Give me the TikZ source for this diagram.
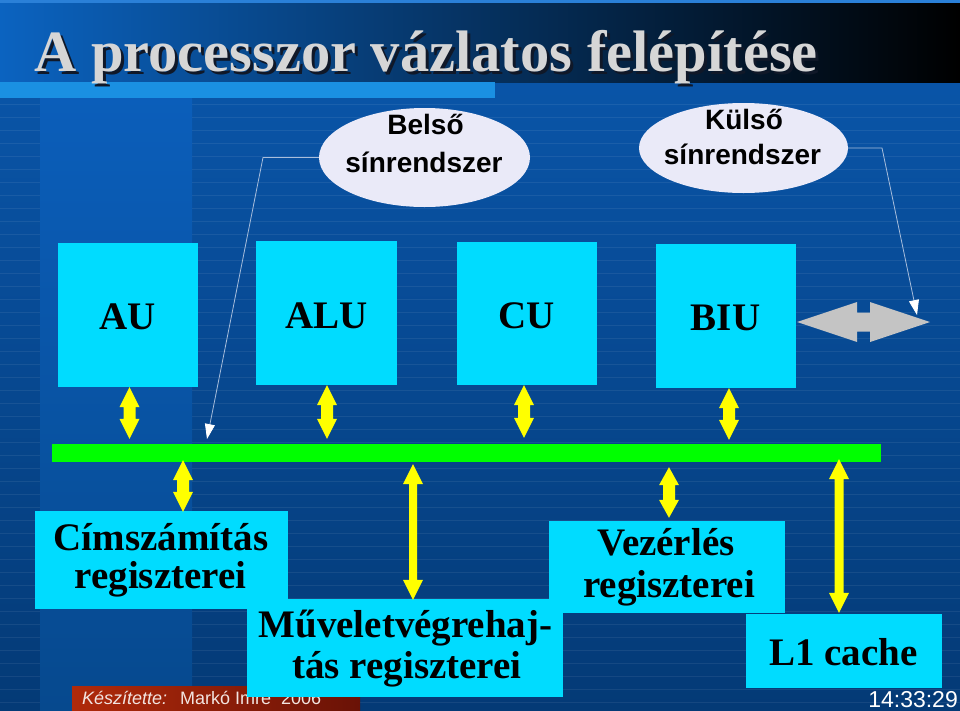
\documentclass[tikz,border=0pt]{standalone}
\usepackage{fontspec}
\setmainfont{Liberation Serif}
\setsansfont{Liberation Sans}
\usetikzlibrary{arrows.meta,shapes.geometric,calc}
\definecolor{bgA}{HTML}{0A58AE}
\definecolor{bgB}{HTML}{043A76}
\definecolor{bandA}{HTML}{0B5EBA}
\definecolor{bandB}{HTML}{06498E}
\definecolor{tbA}{HTML}{0B63C0}
\definecolor{tbB}{HTML}{0A4C9C}
\definecolor{stripc}{HTML}{1A90E2}
\definecolor{toplc}{HTML}{2A80D8}
\definecolor{titlec}{HTML}{D6D6D6}
\definecolor{titlesh}{HTML}{101828}
\definecolor{boxc}{HTML}{00DCFF}
\definecolor{busc}{HTML}{00FF00}
\definecolor{arrc}{HTML}{FFFF00}
\definecolor{grayarr}{HTML}{C4C4C4}
\definecolor{ellc}{HTML}{EAEAF8}
\definecolor{thinc}{HTML}{A8BEDC}
\definecolor{ftA}{HTML}{B02A0A}
\definecolor{ftB}{HTML}{F04A12}
\definecolor{ftC}{HTML}{6A1206}
\definecolor{fttext}{HTML}{F2E4E0}

% vertical double block arrow: top, bottom, shaft half, head half, head length
\newcommand\vdarr[5]{%
  \fill[arrc] let \p1=(#1), \p2=(#2) in
   (\x1,\y1) -- (\x1+#4,\y1-#5) -- (\x1+#3,\y1-#5) -- (\x1+#3,\y2+#5) -- (\x1+#4,\y2+#5) -- (\x1,\y2)
   -- (\x1-#4,\y2+#5) -- (\x1-#3,\y2+#5) -- (\x1-#3,\y1-#5) -- (\x1-#4,\y1-#5) -- cycle;}
% horizontal double block arrow: left, right, shaft half, head half, head length
\newcommand\hdarr[5]{%
  \fill[grayarr] let \p1=(#1), \p2=(#2) in
   (\x1,\y1) -- (\x1+#5,\y1+#4) -- (\x1+#5,\y1+#3) -- (\x2-#5,\y1+#3) -- (\x2-#5,\y1+#4) -- (\x2,\y1)
   -- (\x2-#5,\y1-#4) -- (\x2-#5,\y1-#3) -- (\x1+#5,\y1-#3) -- (\x1+#5,\y1-#4) -- cycle;}

\tikzset{
  unitbox/.style 2 args={fill=boxc, draw=none, inner sep=0pt, minimum width=#1, minimum height=#2},
  btxt/.style={font=\bfseries\fontsize{39}{40}\selectfont, text=black, inner sep=0pt, anchor=base},
  etxt/.style={font=\sffamily\bfseries\fontsize{28}{30}\selectfont, text=black, inner sep=0pt, anchor=base},
  ellbox/.style 2 args={ellipse, fill=ellc, draw=none, inner sep=0pt, minimum width=#1, minimum height=#2},
  thinl/.style={draw=thinc, line width=0.8pt, -{Triangle[width=10pt,length=15pt,fill=white,color=white]}},
  stripe/.style={draw=white, draw opacity=0.07, line width=1pt},
  titlet/.style={font=\bfseries\fontsize{58.5}{60}\selectfont, inner sep=0pt, anchor=base west},
}

\begin{document}
\begin{tikzpicture}[x=1pt,y=-1pt]
\useasboundingbox (0,0) rectangle (960,710);
% background
\shade[top color=bgA, bottom color=bgB] (0,0) rectangle (960,710);
\shade[top color=bandA, bottom color=bandB] (40,98) rectangle (192,710);
\foreach \yy in {104,117,...,710} {
  \draw[stripe] (0,\yy) -- (40,\yy);
  \draw[stripe] (192,\yy) -- (960,\yy);
}
\shade[left color=tbA, middle color=tbB, right color=black] (0,3) rectangle (960,82);
\fill[toplc] (0,0) rectangle (960,3);
\fill[stripc] (0,82) rectangle (495,98);

% title
\node[titlet, text=titlesh] (titlesh) at (37,74) {A processzor vázlatos felépítése};
\node[titlet, text=titlec] (title) at (34,71) {A processzor vázlatos felépítése};

% ellipses
\node[ellbox={211pt}{99pt}] (belso) at (424.5,157.5) {};
\node[etxt] (belso1) at (425.5,134) {Belső};
\node[etxt] (belso2) at (424,172) {sínrendszer};
\node[ellbox={209pt}{90pt}] (kulso) at (743.5,148) {};
\node[etxt] (kulso1) at (744,129) {Külső};
\node[etxt] (kulso2) at (742.5,164) {sínrendszer};

% upper units
\node[unitbox={140pt}{144pt}] (au) at (128,315) {};
\node[btxt] (au-t) at (128,329) {AU};
\node[unitbox={141pt}{144pt}] (alu) at (326.5,313) {};
\node[btxt] (alu-t) at (326.5,328) {ALU};
\node[unitbox={140pt}{143pt}] (cu) at (527,313.5) {};
\node[btxt] (cu-t) at (526.5,328) {CU};
\node[unitbox={140pt}{144pt}] (biu) at (726,316) {};
\node[btxt] (biu-t) at (725.5,330) {BIU};

% bus
\node[fill=busc, draw=none, inner sep=0pt, minimum width=829pt, minimum height=18pt] (bus) at (466.5,453) {};

% thin connector lines
\coordinate (bk) at (263,157.5);
\coordinate (bi) at (207,439);
\draw[thinl] (belso.west) -- (bk) -- (bi);
\coordinate (kk) at (882,148);
\coordinate (ki) at (917,315);
\draw[thinl] (kulso.east) -- (kk) -- (ki);

% lower register boxes
\node[unitbox={253pt}{98pt}] (cim) at (161.5,560) {};
\node[btxt] (cim1) at (161,550) {Címszámítás};
\node[btxt] (cim2) at (160.5,588) {regiszterei};

% footer
\shade[left color=ftA, middle color=ftB, right color=ftC] (72,686) rectangle (360,710);
\node[font=\sffamily\itshape\fontsize{18}{20}\selectfont, text=fttext, inner sep=0pt, anchor=base west] (kesz) at (82,704) {Készítette:};
\node[font=\sffamily\fontsize{18}{20}\selectfont, text=fttext, inner sep=0pt, anchor=base west] (marko) at (180,704) {Markó Imre\ \ 2006};

\node[unitbox={316pt}{98pt}] (muv) at (405,648) {};
\node[btxt] (muv1) at (405.5,637) {Műveletvégrehaj-};
\node[btxt] (muv2) at (407,678) {tás regiszterei};
\node[unitbox={236pt}{92pt}] (vez) at (667,567) {};
\node[btxt] (vez1) at (666,555) {Vezérlés};
\node[btxt] (vez2) at (669,597) {regiszterei};
\node[unitbox={196pt}{74pt}] (l1) at (844,651) {};
\node[btxt] (l1-t) at (843.5,665) {L1 cache};

% yellow double arrows
\coordinate (a1t) at ($(au.south)+(1.5,0)$);
\coordinate (a1b) at ($(a1t |- bus.north)+(0,-5)$);
\vdarr{a1t}{a1b}{6pt}{10pt}{20pt}
\coordinate (a2t) at ($(alu.south)+(0.5,0)$);
\coordinate (a2b) at ($(a2t |- bus.north)+(0,-5)$);
\vdarr{a2t}{a2b}{6pt}{10pt}{20pt}
\coordinate (a3t) at ($(cu.south)+(-3,0)$);
\coordinate (a3b) at ($(a3t |- bus.north)+(0,-6)$);
\vdarr{a3t}{a3b}{6pt}{10pt}{20pt}
\coordinate (a4t) at ($(biu.south)+(3,0)$);
\coordinate (a4b) at ($(a4t |- bus.north)+(0,-4)$);
\vdarr{a4t}{a4b}{6pt}{10pt}{20pt}

\coordinate (b1t) at ($(bus.south -| cim.north)+(21.5,-2)$);
\coordinate (b1b) at ($(b1t |- cim.north)+(0,1)$);
\vdarr{b1t}{b1b}{6pt}{10pt}{20pt}
\coordinate (b2t) at ($(bus.south -| muv.north)+(8,2)$);
\coordinate (b2b) at ($(b2t |- muv.north)+(0,1)$);
\vdarr{b2t}{b2b}{4pt}{10pt}{20pt}
\coordinate (b3t) at ($(bus.south -| vez.north)+(2,5)$);
\coordinate (b3b) at ($(b3t |- vez.north)+(0,-3)$);
\vdarr{b3t}{b3b}{6pt}{10pt}{18pt}
\coordinate (b4t) at ($(bus.south -| l1.north)+(-5,-3)$);
\coordinate (b4b) at ($(b4t |- l1.north)+(0,-1)$);
\vdarr{b4t}{b4b}{4.5pt}{10pt}{20pt}

% gray external bus arrow
\coordinate (gl) at ($(biu.east)+(1,6)$);
\coordinate (gr) at (930,322);
\hdarr{gl}{gr}{9.5pt}{20pt}{60pt}

% time
\node[font=\sffamily\fontsize{23}{24}\selectfont, text=white, inner sep=0pt, anchor=base east] (time) at (958,707.5) {14:33:29};
\end{tikzpicture}
\end{document}
